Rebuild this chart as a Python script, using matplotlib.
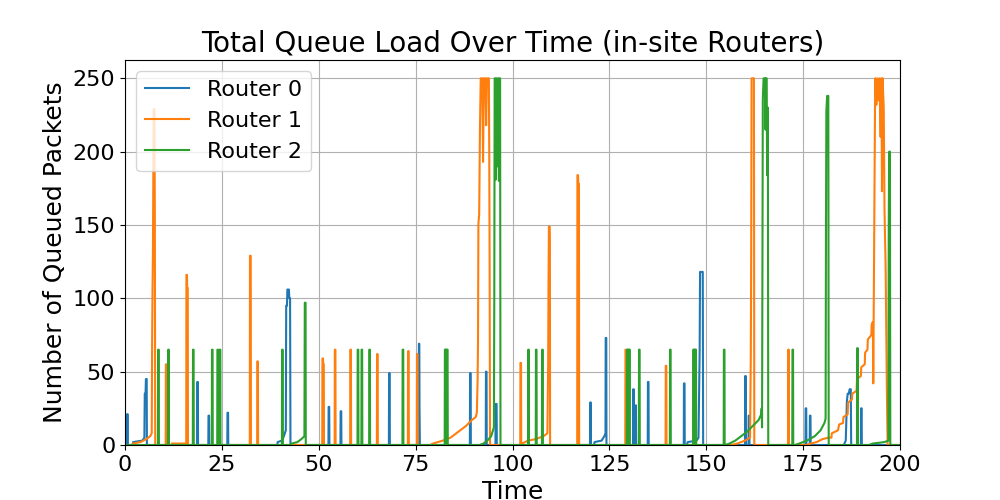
import numpy as np
import matplotlib
matplotlib.use("Agg")
import matplotlib.pyplot as plt

# (time, queued packets)
router0_pts = [
    (0, 0), (0.5, 0), (0.55, 21), (0.7, 21), (0.75, 0),
    (2.0, 0), (2.1, 2), (4.5, 3), (5.0, 5), (5.1, 35), (5.3, 35), (5.4, 45), (5.6, 45), (5.65, 0),
    (18.6, 0), (18.65, 43), (18.8, 43), (18.85, 0),
    (21.5, 0), (21.55, 20), (21.7, 20), (21.75, 0),
    (26.4, 0), (26.45, 22), (26.6, 22), (26.65, 0),
    (39.3, 0), (39.4, 2), (40.5, 3), (41.0, 6), (41.5, 10), (41.6, 95), (41.8, 95), (41.9, 106),
    (42.3, 106), (42.4, 100), (42.6, 100), (42.7, 0),
    (52.5, 0), (52.55, 26), (52.7, 26), (52.75, 0),
    (55.6, 0), (55.65, 23), (55.8, 23), (55.85, 0),
    (68.1, 0), (68.15, 49), (68.3, 49), (68.35, 0),
    (75.8, 0), (75.85, 69), (75.95, 69), (76.0, 25), (76.1, 0),
    (89.0, 0), (89.05, 49), (89.2, 49), (89.25, 0),
    (93.1, 0), (93.15, 50), (93.3, 50), (93.35, 0),
    (95.6, 0), (95.65, 28), (95.9, 28), (95.95, 0),
    (120.0, 0), (120.05, 29), (120.2, 29), (120.25, 0),
    (121.0, 0), (121.2, 2), (123.0, 3), (123.7, 6), (124.0, 8), (124.05, 73), (124.2, 73), (124.25, 0),
    (131.1, 0), (131.15, 38), (131.3, 38), (131.35, 0),
    (131.7, 0), (131.75, 27), (131.85, 27), (131.9, 0),
    (134.9, 0), (134.95, 43), (135.1, 43), (135.15, 0),
    (144.2, 0), (144.25, 42), (144.4, 42), (144.45, 0),
    (145.0, 0), (145.2, 2), (147.5, 3), (148.0, 5), (148.3, 64), (148.4, 118), (149.1, 118), (149.2, 0),
    (160.0, 0), (160.05, 47), (160.2, 47), (160.25, 0),
    (160.9, 0), (160.95, 20), (161.1, 20), (161.15, 0),
    (175.6, 0), (175.65, 25), (175.8, 25), (175.85, 0),
    (176.7, 0), (176.75, 20), (176.9, 20), (176.95, 0),
    (185.5, 0), (186.0, 3), (186.3, 30), (186.5, 35), (186.8, 35), (187.0, 38), (187.3, 38), (187.4, 0),
    (189.9, 0), (189.95, 25), (190.1, 25), (190.15, 0),
    (200, 0),
]

router1_pts = [
    (0, 0), (1.8, 0), (2.0, 1), (4.0, 2), (5.5, 4), (6.5, 6), (6.9, 8), (7.0, 70), (7.1, 105),
    (7.2, 128), (7.3, 175), (7.4, 229), (7.6, 229), (7.7, 155), (7.8, 0),
    (10.5, 0), (10.55, 55), (10.7, 55), (10.75, 0),
    (12.0, 0), (12.1, 1), (15.4, 1), (15.5, 0),
    (15.8, 0), (15.85, 116), (16.0, 116), (16.05, 107), (16.2, 107), (16.25, 0),
    (32.2, 0), (32.25, 129), (32.45, 129), (32.5, 0),
    (34.1, 0), (34.15, 57), (34.3, 57), (34.35, 0),
    (50.9, 0), (50.95, 59), (51.1, 59), (51.15, 55), (51.3, 55), (51.35, 0),
    (54.1, 0), (54.15, 65), (54.3, 65), (54.35, 0),
    (58.1, 0), (58.15, 65), (58.3, 65), (58.35, 0),
    (65.0, 0), (65.05, 62), (65.2, 62), (65.25, 0),
    (73.0, 0), (73.05, 64), (73.2, 64), (73.25, 0),
    (75.3, 0), (75.35, 62), (75.5, 62), (75.55, 0),
    (78.8, 0), (79.5, 1), (82.0, 3), (84.0, 5), (86.0, 9), (88.0, 13), (89.5, 17), (90.5, 19),
    (90.8, 22), (91.0, 45), (91.1, 70), (91.2, 151), (91.4, 157), (91.6, 215), (91.8, 250),
    (92.2, 250), (92.4, 193), (92.6, 250), (93.0, 250), (93.2, 218), (93.4, 250), (93.9, 250),
    (94.0, 200), (94.1, 120), (94.2, 0),
    (102.0, 0), (102.05, 56), (102.2, 56), (102.25, 0), (102.5, 1), (104.0, 3), (106.0, 4),
    (108.0, 6), (109.0, 8), (109.2, 55), (109.3, 112), (109.4, 149), (109.6, 149), (109.65, 140), (109.7, 0),
    (116.7, 0), (116.75, 184), (116.9, 184), (117.0, 178), (117.15, 178), (117.2, 0),
    (129.1, 0), (129.15, 65), (129.3, 65), (129.35, 0),
    (139.5, 0), (139.55, 54), (139.7, 54), (139.75, 0),
    (156.5, 0), (158.0, 1), (160.0, 3), (161.3, 5), (161.5, 62), (161.6, 133), (161.7, 250),
    (162.3, 250), (162.4, 0),
    (171.1, 0), (171.15, 65), (171.3, 65), (171.35, 0),
    (175.8, 0), (177.0, 1), (178.5, 2), (180.0, 4), (181.5, 5), (182.3, 5), (182.4, 8),
    (184.0, 10), (184.3, 14), (185.3, 15), (185.4, 19), (186.5, 21), (186.6, 29), (187.6, 31),
    (187.7, 35), (188.8, 37), (188.9, 45), (189.9, 47), (190.0, 53), (190.9, 55), (191.0, 63),
    (191.6, 65), (191.7, 72), (192.6, 75), (192.7, 82), (193.0, 84), (193.1, 42), (193.2, 85),
    (193.4, 160), (193.6, 250), (193.9, 232), (194.1, 250), (194.4, 235), (194.7, 250),
    (195.0, 210), (195.2, 250), (195.35, 173), (195.5, 250), (195.8, 230), (196.0, 161),
    (196.3, 120), (196.6, 40), (196.8, 0),
    (200, 0),
]

router2_pts = [
    (0, 0), (8.5, 0), (8.55, 65), (8.7, 65), (8.75, 0),
    (11.1, 0), (11.15, 65), (11.3, 65), (11.35, 0),
    (17.5, 0), (17.55, 65), (17.7, 65), (17.75, 0),
    (22.4, 0), (22.45, 65), (22.6, 65), (22.65, 0),
    (23.8, 0), (23.85, 65), (24.0, 65), (24.05, 0),
    (24.4, 0), (24.45, 65), (24.6, 65), (24.65, 0),
    (40.5, 0), (40.55, 65), (40.7, 65), (40.75, 0),
    (42.5, 0), (43.0, 1), (44.5, 2), (45.5, 4), (46.3, 6), (46.4, 97), (46.6, 97), (46.65, 0),
    (60.0, 0), (60.05, 65), (60.2, 65), (60.25, 0),
    (61.0, 0), (61.05, 65), (61.2, 65), (61.25, 0),
    (63.0, 0), (63.05, 65), (63.2, 65), (63.25, 0),
    (71.6, 0), (71.65, 65), (71.8, 65), (71.85, 0),
    (82.5, 0), (82.55, 65), (82.7, 65), (82.75, 0), (82.8, 65), (82.95, 65), (83.0, 0),
    (83.1, 65), (83.25, 65), (83.3, 0),
    (91.5, 0), (92.5, 1), (93.5, 3), (94.5, 6), (95.2, 12), (95.3, 100), (95.4, 250),
    (95.6, 250), (95.7, 181), (95.9, 250), (96.1, 190), (96.3, 250), (96.5, 180), (96.6, 250),
    (96.8, 250), (96.9, 0),
    (104.0, 0), (104.05, 65), (104.2, 65), (104.25, 0),
    (106.0, 0), (106.05, 65), (106.2, 65), (106.25, 0),
    (107.6, 0), (107.65, 65), (107.8, 65), (107.85, 0),
    (129.5, 0), (129.55, 65), (129.7, 65), (129.75, 0), (129.85, 65), (130.0, 65), (130.05, 0),
    (130.1, 65), (130.25, 65), (130.3, 0),
    (132.6, 0), (132.65, 65), (132.8, 65), (132.85, 0),
    (140.6, 0), (140.65, 65), (140.8, 65), (140.85, 0),
    (146.6, 0), (146.65, 65), (146.8, 65), (146.85, 0), (146.9, 65), (147.05, 65), (147.1, 0),
    (147.2, 65), (147.35, 65), (147.4, 0),
    (154.5, 0), (154.55, 65), (154.7, 65), (154.75, 0),
    (154.9, 0), (156.0, 1), (157.5, 3), (159.0, 6), (160.5, 9), (162.0, 13), (163.5, 17),
    (164.2, 21), (164.3, 25), (164.4, 12), (164.5, 120), (164.6, 236), (164.8, 250), (165.2, 250),
    (165.3, 215), (165.4, 250), (165.6, 250), (165.7, 184), (165.9, 230), (166.0, 0),
    (172.2, 0), (172.25, 65), (172.4, 65), (172.45, 0),
    (172.9, 0), (174.0, 1), (176.0, 3), (178.0, 6), (179.5, 10), (180.5, 15), (180.8, 18),
    (180.9, 150), (181.0, 228), (181.2, 238), (181.5, 238), (181.6, 0),
    (188.9, 0), (188.95, 66), (189.1, 66), (189.15, 0),
    (192.0, 0), (193.0, 1), (196.0, 2), (197.0, 3), (197.1, 150), (197.2, 200), (197.4, 200),
    (197.5, 0),
    (200, 0),
]

routers = {
    "Router 0": router0_pts,
    "Router 1": router1_pts,
    "Router 2": router2_pts,
}

fig, ax = plt.subplots(figsize=(10, 5), dpi=100)

for name, pts in routers.items():
    arr = np.array(pts, dtype=float)
    ax.plot(arr[:, 0], arr[:, 1], label=name)

ax.set_title("Total Queue Load Over Time (in-site Routers)", fontsize=20)
ax.set_xlabel("Time", fontsize=18)
ax.set_ylabel("Number of Queued Packets", fontsize=18)
ax.tick_params(labelsize=16)
ax.set_xlim(0, 200)
ax.set_ylim(bottom=0)
ax.grid(True)
ax.legend(loc="upper left", fontsize=16)

fig.savefig("out.png", dpi=100)
